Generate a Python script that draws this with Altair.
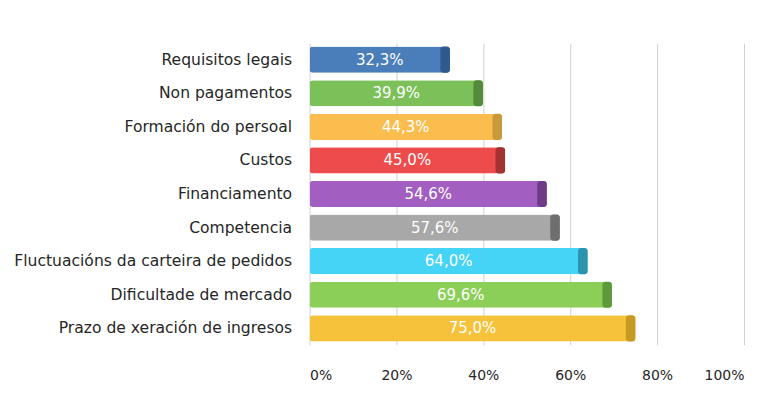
import altair as alt
import pandas as pd

categories = ["Requisitos legais", "Non pagamentos", "Formación do persoal", "Custos",
              "Financiamento", "Competencia", "Fluctuacións da carteira de pedidos",
              "Dificultade de mercado", "Prazo de xeración de ingresos"]
values = [32.3, 39.9, 44.3, 45.0, 54.6, 57.6, 64.0, 69.6, 75.0]
labels = ["32,3%", "39,9%", "44,3%", "45,0%", "54,6%", "57,6%", "64,0%", "69,6%", "75,0%"]
colors = ["#4a7ebb", "#7cc05a", "#fbbd4e", "#ee4c4c", "#a25ec0", "#a8a8a8", "#45d3f6", "#8ccf58", "#f6c23a"]
dark = ["#2f5a8c", "#558a3a", "#c99a3c", "#a33232", "#6e3b86", "#6e6e6e", "#2c93ad", "#5f9a3a", "#c79a24"]
tick_values = [0, 20, 40, 60, 80, 100]

df = pd.DataFrame({"cat": categories, "value": values, "label": labels,
                   "color": colors, "dark": dark})
df["half"] = df["value"] / 2
df["capstart"] = df["value"] - 2.2

font = "DejaVu Sans"
y = alt.Y("cat:N", sort=categories, title=None,
          scale=alt.Scale(paddingInner=0.22, paddingOuter=0.1),
          axis=alt.Axis(ticks=False, domain=False, labelPadding=18, labelFontSize=15.6,
                        labelLimit=0, labelColor="#262626", labelFont=font))
xscale = alt.Scale(domain=[0, 100])
xaxis = alt.Axis(values=tick_values, labelExpr="datum.value + '%'", ticks=False, domain=False,
                 grid=True, gridColor="#d0d0d0", labelPadding=24, labelFontSize=14,
                 labelColor="#262626", labelFont=font)

base = alt.Chart(df)
bars = base.mark_bar(cornerRadius=3).encode(
    x=alt.X("value:Q", scale=xscale, axis=xaxis, title=None),
    y=y,
    color=alt.Color("color:N", scale=None),
)
caps = base.mark_bar(cornerRadius=3).encode(
    x=alt.X("capstart:Q", scale=xscale),
    x2="value:Q",
    y=y,
    color=alt.Color("dark:N", scale=None),
)
text = base.mark_text(color="white", fontSize=15, font=font).encode(
    x=alt.X("half:Q", scale=xscale),
    y=y,
    text="label:N",
)

chart = (bars + caps + text).properties(
    width=435, height=302,
    autosize=alt.AutoSizeParams(type="none"),
    padding={"left": 302, "top": 35, "right": 10, "bottom": 50},
).configure_view(stroke=None)

chart.save("out.html", embed_options={"renderer": "svg", "actions": False})
